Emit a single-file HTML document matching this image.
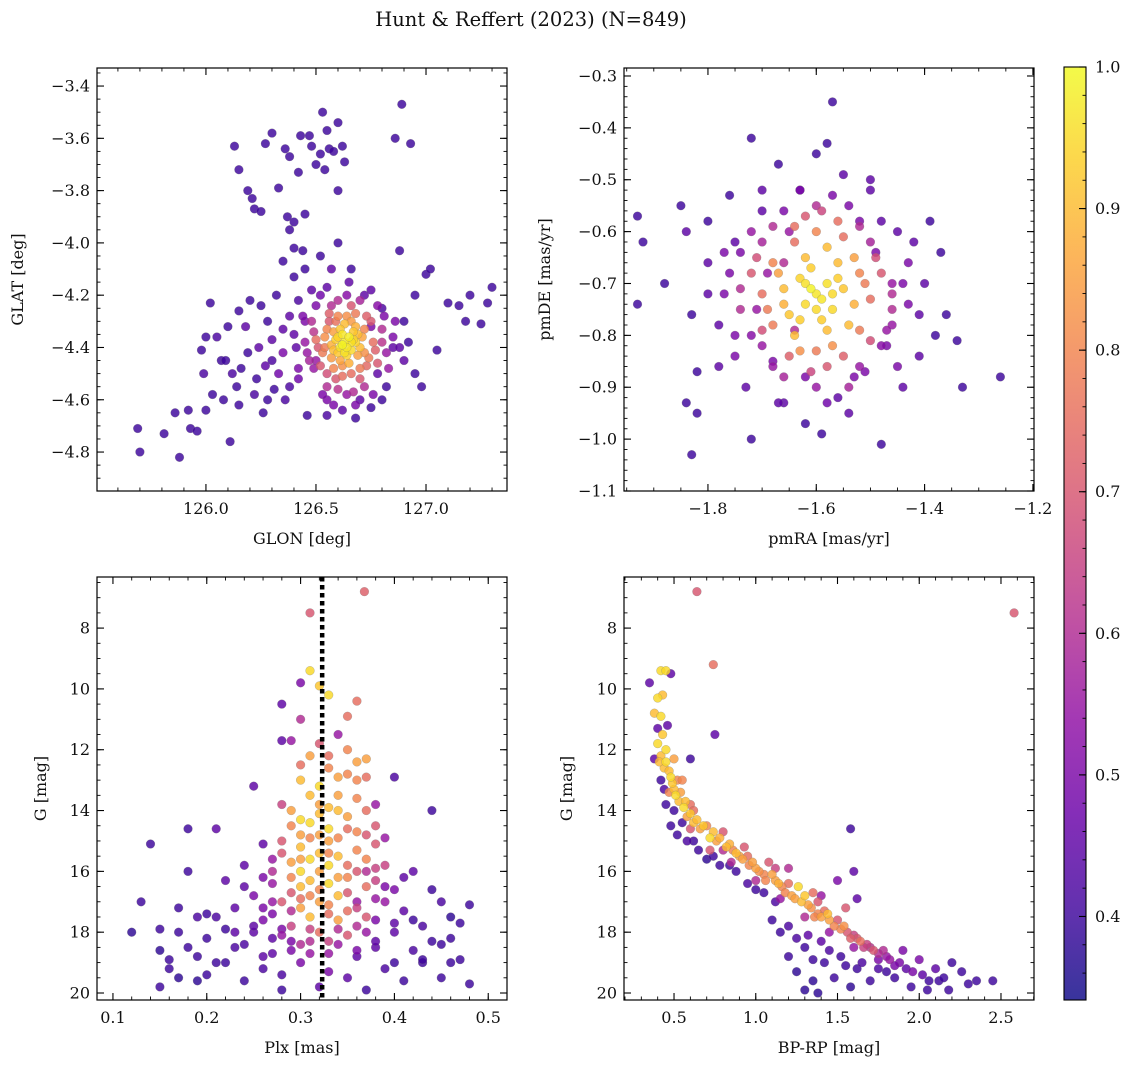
<!DOCTYPE html>
<html><head><meta charset="utf-8">
<style>
html,body{margin:0;padding:0;background:#fff;}
svg text{font-family:"DejaVu Serif","Liberation Serif",serif;fill:#111;}
</style></head>
<body>
<svg id="chart" width="1136" height="1067" viewBox="0 0 1136 1067" xmlns="http://www.w3.org/2000/svg">
<text x="531" y="26" font-size="19.5" text-anchor="middle">Hunt &amp; Reffert (2023) (N=849)</text>
</svg>
<script>
// ---------- data: [x, y, membership probability] ----------
const posData = [
[125.69,-4.71,.4],[125.70,-4.80,.4],[125.81,-4.73,.4],[125.86,-4.65,.4],[125.88,-4.82,.4],[125.92,-4.64,.4],[125.93,-4.71,.4],[125.96,-4.72,.4],[125.98,-4.41,.4],[125.99,-4.50,.42],[126.00,-4.64,.4],[126.00,-4.36,.4],[126.02,-4.23,.4],[126.03,-4.58,.4],[126.05,-4.36,.42],[126.07,-4.45,.4],[126.08,-4.60,.4],[126.09,-4.45,.4],[126.10,-4.32,.4],[126.11,-4.76,.4],[126.12,-4.50,.42],[126.14,-4.55,.4],[126.15,-4.62,.4],[126.15,-4.26,.4],[126.16,-4.48,.4],[126.18,-4.32,.45],[126.19,-4.42,.4],[126.20,-4.22,.4],[126.22,-4.58,.42],[126.23,-4.52,.4],[126.24,-4.40,.45],[126.25,-4.24,.4],[126.26,-4.65,.4],[126.27,-4.47,.45],[126.28,-4.30,.4],[126.30,-4.37,.45],[126.31,-4.56,.4],[126.32,-4.20,.4],[126.33,-4.50,.48],[126.35,-4.42,.5],[126.36,-4.60,.42],[126.38,-4.28,.45],[126.40,-4.13,.4],[126.42,-4.52,.48],[126.44,-4.03,.4],[126.45,-4.30,.5],[126.46,-4.66,.4],[126.48,-4.18,.45],[126.50,-4.45,.55],[126.52,-4.05,.4],[126.55,-4.60,.5],[126.57,-4.10,.45],[126.60,-4.00,.4],[126.62,-4.64,.45],[126.65,-4.15,.45],[126.68,-4.67,.4],[126.70,-4.60,.45],[126.72,-4.20,.45],[126.75,-4.32,.5],[126.78,-4.50,.45],[126.80,-4.25,.42],[126.82,-4.55,.4],[126.85,-4.40,.45],[126.88,-4.03,.4],[126.90,-4.30,.4],[126.95,-4.20,.4],[126.98,-4.55,.4],[127.00,-4.12,.4],[127.02,-4.10,.4],[127.05,-4.41,.4],[127.10,-4.23,.4],[127.15,-4.24,.4],[127.18,-4.30,.4],[127.20,-4.20,.4],[127.25,-4.31,.4],[127.28,-4.23,.4],[127.30,-4.17,.4],
[126.13,-3.63,.4],[126.15,-3.72,.4],[126.19,-3.80,.4],[126.21,-3.83,.4],[126.22,-3.87,.4],[126.25,-3.88,.4],[126.27,-3.62,.4],[126.30,-3.58,.4],[126.33,-3.79,.4],[126.36,-3.64,.4],[126.37,-3.90,.4],[126.38,-3.67,.4],[126.40,-3.92,.4],[126.42,-3.73,.4],[126.43,-3.59,.4],[126.45,-3.89,.4],[126.47,-3.59,.4],[126.48,-3.63,.4],[126.50,-3.70,.4],[126.52,-3.66,.4],[126.53,-3.50,.4],[126.54,-3.72,.4],[126.55,-3.57,.4],[126.56,-3.64,.4],[126.58,-3.65,.4],[126.60,-3.80,.4],[126.60,-3.54,.4],[126.62,-3.63,.4],[126.63,-3.69,.4],[126.86,-3.60,.4],[126.89,-3.47,.4],[126.93,-3.62,.4],[126.38,-3.95,.4],[126.35,-4.07,.4],[126.40,-4.02,.4],
[126.63,-4.38,.97],[126.65,-4.36,.98],[126.61,-4.40,.96],[126.66,-4.41,.95],[126.62,-4.35,.97],[126.68,-4.38,.94],[126.59,-4.37,.93],[126.64,-4.43,.94],[126.67,-4.34,.92],[126.60,-4.42,.92],[126.70,-4.40,.9],[126.57,-4.39,.88],[126.63,-4.31,.9],[126.65,-4.46,.88],
[126.55,-4.33,.8],[126.72,-4.33,.8],[126.53,-4.42,.78],[126.74,-4.44,.78],[126.58,-4.48,.8],[126.70,-4.48,.78],[126.60,-4.28,.8],[126.68,-4.27,.78],[126.50,-4.37,.75],[126.76,-4.38,.75],[126.62,-4.51,.75],[126.56,-4.27,.72],[126.73,-4.28,.72],[126.52,-4.47,.7],[126.78,-4.46,.7],[126.66,-4.24,.7],
[126.48,-4.30,.6],[126.80,-4.33,.6],[126.47,-4.45,.58],[126.82,-4.42,.55],[126.55,-4.55,.6],[126.72,-4.55,.6],[126.60,-4.22,.6],[126.45,-4.38,.55],[126.85,-4.36,.5],[126.64,-4.58,.55],[126.50,-4.24,.5],[126.78,-4.24,.52],[126.42,-4.48,.5],[126.68,-4.62,.5],[126.58,-4.62,.5],[126.90,-4.45,.45],[126.40,-4.35,.45],[126.52,-4.20,.48],[126.75,-4.18,.45],[126.58,-4.34,.85],[126.69,-4.43,.85],[126.61,-4.45,.86],[126.66,-4.30,.84],
[126.54,-4.36,.82],[126.71,-4.36,.86],[126.57,-4.44,.84],[126.68,-4.32,.88],[126.62,-4.47,.82],[126.64,-4.28,.82],[126.51,-4.40,.7],[126.77,-4.41,.72],[126.59,-4.30,.76],[126.73,-4.47,.74],[126.55,-4.50,.68],[126.70,-4.52,.7],[126.49,-4.34,.62],[126.80,-4.38,.62],[126.46,-4.42,.55],[126.83,-4.48,.55],[126.60,-4.56,.62],[126.67,-4.57,.6],[126.57,-4.24,.6],[126.70,-4.22,.58],[126.44,-4.28,.5],[126.86,-4.30,.5],[126.53,-4.58,.5],[126.76,-4.58,.5],[126.64,-4.20,.52],[126.62,-4.39,.99],[126.64,-4.40,.97],[126.66,-4.38,.96],[126.60,-4.36,.94],[126.63,-4.42,.96],[126.67,-4.37,.94],[126.58,-4.41,.9],[126.69,-4.35,.9],[126.61,-4.33,.92],[126.56,-4.30,.7],[126.75,-4.30,.7],[126.49,-4.48,.55],[126.81,-4.28,.5],[126.41,-4.40,.45],[126.88,-4.40,.45],[126.59,-4.52,.7],[126.66,-4.50,.75],[126.72,-4.42,.82],[126.54,-4.40,.78],
[126.30,-4.45,.42],[126.35,-4.33,.45],[126.42,-4.22,.42],[126.38,-4.55,.42],[126.28,-4.60,.4],[126.55,-4.66,.42],[126.75,-4.63,.4],[126.80,-4.60,.4],[126.92,-4.38,.4],[126.95,-4.50,.4],[126.55,-4.17,.45],[126.45,-4.10,.4],[126.66,-4.10,.4]
];
const pmData = [
[-1.93,-0.57,.4],[-1.92,-0.62,.4],[-1.93,-0.74,.4],[-1.88,-0.70,.4],[-1.85,-0.55,.4],[-1.84,-0.60,.45],[-1.83,-0.76,.4],[-1.82,-0.87,.4],[-1.83,-1.03,.4],[-1.82,-0.95,.4],[-1.84,-0.93,.4],[-1.80,-0.66,.45],[-1.80,-0.58,.4],[-1.78,-0.86,.45],[-1.77,-0.72,.5],[-1.76,-0.53,.4],[-1.75,-0.80,.5],[-1.74,-0.64,.5],[-1.73,-0.90,.45],[-1.72,-0.42,.4],[-1.72,-1.00,.4],[-1.71,-0.75,.55],[-1.70,-0.56,.45],[-1.69,-0.68,.55],[-1.68,-0.85,.5],[-1.67,-0.47,.4],[-1.66,-0.93,.45],[-1.65,-0.60,.55],[-1.64,-0.79,.6],[-1.63,-0.52,.45],[-1.62,-0.97,.4],[-1.60,-0.45,.4],[-1.59,-0.99,.4],[-1.58,-0.43,.4],[-1.57,-0.35,.4],[-1.56,-0.92,.45],[-1.55,-0.49,.45],[-1.54,-0.95,.45],[-1.52,-0.58,.5],[-1.51,-0.87,.5],[-1.50,-0.52,.45],[-1.49,-0.64,.5],[-1.48,-1.01,.4],[-1.47,-0.82,.5],[-1.46,-0.70,.55],[-1.45,-0.60,.45],[-1.44,-0.90,.45],[-1.43,-0.74,.5],[-1.42,-0.62,.45],[-1.41,-0.84,.45],[-1.40,-0.70,.45],[-1.38,-0.80,.4],[-1.37,-0.64,.4],[-1.36,-0.76,.4],[-1.34,-0.81,.4],[-1.33,-0.90,.4],[-1.26,-0.88,.4],[-1.39,-0.58,.4],[-1.75,-0.62,.45],[-1.78,-0.78,.45],[-1.70,-0.82,.55],[-1.66,-0.66,.6],[-1.53,-0.88,.5],[-1.46,-0.78,.55],[-1.62,-0.88,.5],[-1.48,-0.58,.45],
[-1.60,-0.72,.97],[-1.58,-0.70,.96],[-1.62,-0.74,.95],[-1.57,-0.75,.95],[-1.63,-0.69,.94],[-1.59,-0.77,.93],[-1.61,-0.67,.93],[-1.55,-0.71,.92],[-1.65,-0.76,.92],[-1.56,-0.66,.9],[-1.64,-0.80,.9],[-1.58,-0.63,.9],[-1.66,-0.71,.9],[-1.54,-0.78,.9],
[-1.68,-0.66,.8],[-1.52,-0.68,.8],[-1.68,-0.78,.78],[-1.52,-0.79,.78],[-1.60,-0.60,.8],[-1.60,-0.83,.78],[-1.70,-0.72,.75],[-1.50,-0.73,.75],[-1.64,-0.62,.75],[-1.55,-0.61,.75],[-1.65,-0.84,.72],[-1.55,-0.84,.72],[-1.72,-0.68,.7],[-1.48,-0.68,.7],[-1.62,-0.57,.7],[-1.58,-0.86,.7],
[-1.74,-0.75,.6],[-1.46,-0.75,.6],[-1.70,-0.62,.58],[-1.50,-0.62,.58],[-1.68,-0.86,.55],[-1.52,-0.86,.55],[-1.60,-0.55,.6],[-1.60,-0.90,.55],[-1.76,-0.68,.5],[-1.44,-0.70,.5],[-1.66,-0.56,.5],[-1.54,-0.55,.5],[-1.72,-0.80,.52],[-1.48,-0.82,.52],
[-1.61,-0.71,.99],[-1.59,-0.73,.97],[-1.62,-0.70,.96],[-1.57,-0.72,.95],[-1.60,-0.75,.95],[-1.63,-0.77,.93],[-1.56,-0.69,.93],[-1.58,-0.79,.9],[-1.62,-0.65,.9],[-1.66,-0.74,.88],[-1.53,-0.74,.88],[-1.67,-0.68,.85],[-1.53,-0.65,.85],[-1.57,-0.82,.82],[-1.63,-0.83,.82],[-1.69,-0.75,.78],[-1.51,-0.70,.78],[-1.64,-0.59,.75],[-1.56,-0.58,.75],[-1.71,-0.65,.68],[-1.49,-0.65,.68],[-1.70,-0.79,.68],[-1.50,-0.81,.68],[-1.61,-0.87,.66],[-1.59,-0.56,.66],[-1.74,-0.71,.6],[-1.46,-0.72,.6],[-1.68,-0.59,.6],[-1.52,-0.59,.6],[-1.66,-0.88,.58],[-1.54,-0.90,.58],[-1.77,-0.64,.5],[-1.43,-0.66,.5],[-1.75,-0.84,.5],[-1.45,-0.86,.5],[-1.63,-0.52,.5],[-1.57,-0.53,.5],[-1.58,-0.93,.48],[-1.67,-0.93,.45],[-1.80,-0.72,.45],[-1.41,-0.76,.45],[-1.70,-0.52,.45],[-1.50,-0.50,.45],[-1.72,-0.60,.55],[-1.47,-0.79,.55]
];
const plxData = [
[0.13,17.0,.4],[0.14,15.1,.4],[0.15,19.8,.4],[0.15,17.9,.4],[0.16,18.9,.4],[0.16,19.2,.4],[0.17,18.0,.4],[0.17,17.2,.4],[0.18,18.5,.4],[0.18,14.6,.4],[0.18,16.0,.4],[0.19,18.8,.4],[0.19,17.5,.42],[0.20,19.4,.4],[0.20,18.2,.4],[0.21,17.5,.42],[0.21,14.6,.45],[0.22,19.0,.4],[0.22,16.3,.45],[0.23,18.5,.42],[0.23,17.2,.45],[0.24,19.6,.4],[0.24,15.8,.45],[0.25,18.0,.45],[0.25,16.8,.5],[0.26,19.2,.42],[0.26,17.6,.5],[0.26,15.1,.45],[0.27,18.7,.45],[0.27,16.4,.55],[0.28,19.9,.4],[0.28,17.9,.5],[0.28,11.7,.45],[0.29,18.3,.5],[0.35,19.5,.45],[0.36,18.8,.45],[0.37,19.9,.4],[0.38,18.5,.45],[0.38,17.6,.5],[0.39,19.2,.42],[0.39,16.5,.5],[0.40,18.0,.45],[0.40,12.9,.42],[0.41,19.6,.4],[0.41,17.3,.45],[0.42,18.6,.42],[0.42,16.0,.45],[0.43,19.0,.4],[0.43,17.8,.42],[0.44,14.0,.4],[0.44,18.3,.4],[0.45,19.5,.4],[0.45,17.0,.42],[0.46,18.2,.4],[0.46,19.0,.4],[0.47,17.7,.4],[0.47,18.9,.4],[0.48,19.7,.4],[0.48,17.1,.4],[0.36,17.0,.55],[0.37,16.0,.6],[0.27,17.0,.55],[0.30,19.0,.5],[0.33,19.3,.5],[0.34,18.4,.55],[0.31,18.7,.55],[0.32,19.8,.45],[0.25,13.2,.45],[0.28,10.5,.45],[0.30,9.8,.5],[0.31,7.5,.7],[0.29,11.7,.55],
[0.368,6.8,.72],[0.31,9.4,.95],[0.33,10.2,.95],[0.32,9.9,.92],[0.35,10.9,.75],[0.36,10.4,.75],[0.31,12.2,.85],[0.33,12.6,.8],[0.35,12.0,.8],[0.36,12.4,.85],[0.37,12.3,.85],[0.30,13.0,.9],[0.32,13.2,.95],[0.34,13.5,.85],[0.36,13.0,.8],[0.29,14.0,.85],[0.30,14.3,.95],[0.32,14.1,.9],[0.33,14.6,.95],[0.35,14.2,.85],[0.37,14.0,.75],[0.38,14.5,.7],[0.28,15.0,.7],[0.30,15.2,.9],[0.31,15.6,.95],[0.33,15.0,.85],[0.34,15.5,.9],[0.36,15.3,.8],[0.38,15.1,.7],[0.39,15.8,.65],[0.27,16.0,.6],[0.29,16.2,.8],[0.30,16.5,.9],[0.32,16.0,.85],[0.33,16.4,.95],[0.35,16.2,.8],[0.37,16.5,.75],[0.38,16.3,.65],[0.28,17.0,.7],[0.30,17.2,.85],[0.31,17.5,.9],[0.33,17.1,.8],[0.34,17.6,.85],[0.35,17.3,.75],[0.37,17.5,.7],[0.29,17.8,.65],[0.32,18.0,.75],[0.35,18.1,.7],[0.30,18.4,.6],[0.33,18.3,.65],[0.36,17.8,.6],[0.31,14.9,.8],[0.34,14.0,.9],[0.29,15.7,.85],[0.36,14.7,.8],[0.31,16.8,.8],[0.34,16.8,.9],[0.27,17.4,.5],[0.39,17.0,.55],[0.26,16.2,.5],[0.40,16.6,.5],[0.32,11.8,.7],[0.34,11.5,.55],[0.30,11.0,.6],[0.38,13.8,.55],[0.28,13.8,.65],[0.37,15.6,.8],[0.30,16.0,.95],[0.33,15.8,.95],
[0.31,13.5,.9],[0.32,13.8,.85],[0.33,13.9,.9],[0.31,14.4,.95],[0.32,14.8,.85],[0.34,14.9,.8],[0.35,14.6,.75],[0.30,15.6,.85],[0.32,15.4,.9],[0.33,15.4,.8],[0.35,15.8,.75],[0.31,16.3,.9],[0.32,16.6,.8],[0.34,16.2,.85],[0.36,16.0,.7],[0.30,16.9,.75],[0.32,17.0,.85],[0.33,17.4,.75],[0.35,16.7,.7],[0.36,17.2,.65],[0.29,17.3,.6],[0.31,17.9,.65],[0.34,17.9,.6],[0.37,18.0,.55],[0.28,18.1,.55],[0.30,14.8,.85],[0.29,14.5,.8],[0.28,15.4,.7],[0.29,16.7,.7],[0.38,16.9,.55],[0.37,14.8,.7],[0.38,15.9,.65],[0.39,14.9,.55],[0.27,15.6,.55],[0.26,17.2,.5],[0.33,12.2,.75],[0.35,12.8,.8],[0.30,12.5,.75],[0.36,13.6,.8],[0.37,12.9,.75],[0.34,12.9,.85],[0.31,18.3,.6],[0.33,18.7,.55],[0.36,18.6,.5],[0.29,18.6,.5],[0.27,18.2,.45],[0.38,18.3,.45],[0.40,17.7,.45],[0.25,17.8,.45],[0.24,16.5,.45],[0.23,18.0,.45],[0.41,16.2,.45],
[0.20,17.4,.4],[0.22,17.9,.4],[0.24,18.4,.42],[0.21,19.0,.4],[0.19,19.6,.38],[0.26,18.8,.45],[0.28,19.4,.42],[0.40,19.0,.4],[0.42,17.6,.4],[0.44,16.6,.4],[0.43,18.9,.4],[0.45,18.4,.4],[0.17,19.5,.38],[0.15,18.6,.38],[0.12,18.0,.38],[0.46,17.5,.38]
];
const cmdData = [
[0.35,9.8,.45],[0.42,9.4,.95],[0.45,9.4,.95],[0.48,9.5,.45],[0.40,10.3,.95],[0.43,10.2,.9],[0.38,10.8,.9],[0.42,10.9,.95],[0.74,9.2,.75],[0.64,6.8,.7],[2.58,7.5,.7],[0.75,11.5,.45],
[0.40,11.8,.95],[0.42,12.2,.9],[0.45,12.0,.95],[0.44,12.6,.9],[0.48,12.9,.95],[0.50,13.3,.9],[0.52,13.0,.8],[0.53,13.7,.9],[0.56,13.9,.95],[0.58,14.2,.85],[0.60,13.8,.75],[0.62,14.4,.9],[0.66,14.6,.85],[0.70,14.5,.8],[0.72,14.9,.95],[0.76,15.0,.85],[0.80,14.7,.7],[0.82,15.2,.9],[0.86,15.3,.8],[0.90,15.5,.85],[0.93,15.2,.7],[0.96,15.8,.8],[1.00,15.9,.85],[1.05,16.1,.8],[1.08,15.7,.7],[1.12,16.3,.85],[1.16,16.5,.8],[1.20,16.4,.75],[1.22,16.8,.85],[1.26,16.5,.95],[1.28,17.0,.9],[1.32,17.1,.85],[1.35,16.7,.75],[1.38,17.4,.8],[1.42,17.3,.75],[1.45,17.6,.85],[1.50,17.6,.7],[1.52,17.9,.8],[1.56,18.0,.7],[1.60,18.1,.65],[1.64,18.3,.75],[1.68,18.4,.65],[1.72,18.6,.7],[1.78,18.6,.6],[1.82,18.9,.55],[1.88,19.0,.5],[1.92,19.2,.45],[1.96,19.3,.5],[2.02,19.4,.45],[2.06,19.6,.4],[2.12,19.6,.4],[2.18,19.9,.4],[2.26,19.3,.4],[2.35,19.6,.4],[2.45,19.6,.4],
[0.60,14.6,.7],[0.72,15.3,.7],[0.85,15.7,.6],[1.00,16.3,.6],[1.15,16.9,.55],[1.30,17.5,.6],[1.45,18.0,.55],[1.60,18.5,.55],[1.75,18.9,.5],[0.50,12.3,.85],[0.55,13.0,.8],[1.20,15.9,.6],[1.40,16.8,.55],[1.55,17.2,.7],
[0.42,13.0,.4],[0.45,13.8,.4],[0.48,14.5,.4],[0.52,14.8,.4],[0.58,15.0,.42],[0.65,15.3,.4],[0.70,15.6,.38],[0.78,15.8,.4],[0.88,16.0,.4],[0.95,16.4,.42],[1.05,16.7,.4],[0.40,11.3,.45],[0.46,11.2,.45],[0.60,12.3,.4],[1.58,14.6,.4],[1.60,16.0,.45],[1.62,16.9,.45],[1.50,16.3,.5],
[1.15,18.0,.4],[1.20,18.8,.4],[1.25,19.3,.38],[1.30,18.5,.4],[1.35,19.6,.38],[1.38,20.0,.38],[1.42,19.0,.4],[1.48,19.5,.4],[1.52,18.8,.4],[1.58,19.8,.38],[1.62,19.2,.4],[1.70,19.6,.4],[1.75,19.2,.42],[1.85,19.5,.4],[1.95,19.8,.4],[2.05,19.9,.4],[1.25,18.2,.42],[1.10,17.6,.4],[1.40,18.3,.45],[1.30,19.9,.38],[1.90,18.6,.5],[2.00,18.9,.5],[2.10,19.2,.45],[2.20,19.0,.4],
[0.45,12.4,.95],[0.47,12.7,.9],[0.49,13.1,.92],[0.51,13.5,.95],[0.54,13.4,.85],[0.57,13.7,.9],[0.60,14.1,.92],[0.64,14.3,.9],[0.68,14.5,.92],[0.74,14.7,.9],[0.78,14.9,.88],[0.84,15.1,.88],[0.88,15.4,.9],[0.92,15.6,.85],[0.98,15.7,.85],[1.02,16.0,.82],[1.06,16.3,.8],[1.10,16.1,.85],[1.14,16.4,.88],[1.18,16.7,.8],[1.24,16.9,.85],[1.30,16.8,.92],[1.34,17.2,.82],[1.36,17.5,.8],[1.40,17.5,.85],[1.44,17.4,.9],[1.48,17.8,.8],[1.54,17.8,.82],[1.58,18.2,.72],[1.62,18.2,.7],[1.66,18.5,.65],[1.70,18.5,.62],[1.75,18.7,.6],[1.80,18.8,.55],[1.85,19.1,.5],[0.43,11.5,.92],[0.41,12.4,.9],[0.47,13.4,.8],[0.62,14.0,.75],[0.80,15.3,.6],[0.95,15.5,.75],[1.12,15.9,.65],[1.38,17.0,.7],[0.38,12.3,.45],[0.44,13.3,.42],[0.50,14.0,.4],[0.55,14.4,.4],[0.62,15.0,.4],[0.74,15.5,.4],[0.84,15.8,.4],[1.00,16.6,.4],[1.12,17.0,.42],[1.20,17.8,.42],[1.32,18.1,.45],[1.45,18.6,.42],[1.55,19.1,.4],[1.35,18.9,.4],[1.65,19.0,.42],[1.80,19.3,.4],[2.15,19.5,.4],[2.30,19.7,.4]
];
const xTicks1 = [126.0,126.5,127.0];
const yTicks1 = [-3.4,-3.6,-3.8,-4.0,-4.2,-4.4,-4.6,-4.8];
const xTicks2 = [-1.8,-1.6,-1.4,-1.2];
const yTicks2 = [-0.3,-0.4,-0.5,-0.6,-0.7,-0.8,-0.9,-1.0,-1.1];
const xTicks3 = [0.1,0.2,0.3,0.4,0.5];
const xTicks4 = [0.5,1.0,1.5,2.0,2.5];
const gTicks = [8,10,12,14,16,18,20];
const cbTicks = [0.4,0.5,0.6,0.7,0.8,0.9,1.0];
const meanPlx = [0.323];
const cMin = 0.341, cMax = 1.0;

// ---------- rendering ----------
const NS = 'http://www.w3.org/2000/svg';
const svg = document.getElementById('chart');
function mk(tag, attrs, parent){ const e=document.createElementNS(NS,tag); for(const k in attrs) e.setAttribute(k,attrs[k]); (parent||svg).appendChild(e); return e; }
const stops=[[13,8,135],[65,4,157],[106,0,168],[143,13,164],[177,42,144],[204,71,120],[225,100,98],[242,132,75],[252,166,54],[252,206,37],[240,249,33]];
function plasma(t){ t=Math.max(0,Math.min(1,t)); const f=t*10, i=Math.min(9,Math.floor(f)), r=f-i; const a=stops[i], b=stops[i+1]; return 'rgb('+[0,1,2].map(k=>Math.round(a[k]+(b[k]-a[k])*r)).join(',')+')'; }
const fmt1 = v => (v<0?'\u2212':'')+Math.abs(v).toFixed(1);
const fmt0 = v => String(v);

function panel(o){
  const g = mk('g',{});
  
  
  const sx = v => o.box[0] + (v-o.xd[0])/(o.xd[1]-o.xd[0])*(o.box[2]-o.box[0]);
  const sy = v => o.box[1] + (v-o.yd[0])/(o.yd[1]-o.yd[0])*(o.box[3]-o.box[1]);
  const [L,T,R,B]=o.box;
  const pts = o.data.slice().sort((a,b)=>a[2]-b[2]);
  const pg = mk('g',{}, g);
  
  
  pts.forEach(d=>{
    const c = mk('circle',{cx:sx(d[0]).toFixed(1),cy:sy(d[1]).toFixed(1),r:4.4,fill:plasma((d[2]-cMin)/(cMax-cMin)),'fill-opacity':0.82,stroke:'#777','stroke-width':0.4,'stroke-opacity':0.6}, pg);
    
    
  });
  if(o.vline){ o.vline.forEach(v=>{ const l=mk('line',{x1:sx(v),x2:sx(v),y1:T,y2:B,stroke:'#000','stroke-width':4.5,'stroke-dasharray':'4.5,3.5'}, g);
    
     }); }
  const fr = mk('rect',{x:L,y:T,width:R-L,height:B-T,fill:'none',stroke:'#000','stroke-width':1.2}, g);
  
  
  const lo=(a,b)=>Math.min(a,b), hi=(a,b)=>Math.max(a,b);
  for(let v=Math.ceil(lo(...o.xd)/o.xm-1e-6)*o.xm; v<=hi(...o.xd)+1e-9; v+=o.xm){ const x=sx(v);
    mk('line',{x1:x,x2:x,y1:B,y2:B-3.5,stroke:'#000','stroke-width':0.9},g); mk('line',{x1:x,x2:x,y1:T,y2:T+3.5,stroke:'#000','stroke-width':0.9},g); }
  for(let v=Math.ceil(lo(...o.yd)/o.ym-1e-6)*o.ym; v<=hi(...o.yd)+1e-9; v+=o.ym){ const y=sy(v);
    mk('line',{x1:L,x2:L+3.5,y1:y,y2:y,stroke:'#000','stroke-width':0.9},g); mk('line',{x1:R,x2:R-3.5,y1:y,y2:y,stroke:'#000','stroke-width':0.9},g); }
  o.xt.forEach(v=>{ const x=sx(v);
    mk('line',{x1:x,x2:x,y1:B,y2:B-7,stroke:'#000','stroke-width':1.1},g); mk('line',{x1:x,x2:x,y1:T,y2:T+7,stroke:'#000','stroke-width':1.1},g);
    const t=mk('text',{x:x,y:B+23,'font-size':16,'text-anchor':'middle'},g); t.textContent=o.xf(v);
      });
  o.yt.forEach(v=>{ const y=sy(v);
    mk('line',{x1:L,x2:L+7,y1:y,y2:y,stroke:'#000','stroke-width':1.1},g); mk('line',{x1:R,x2:R-7,y1:y,y2:y,stroke:'#000','stroke-width':1.1},g);
    const t=mk('text',{x:L-7,y:y+5.5,'font-size':16,'text-anchor':'end'},g); t.textContent=o.yf(v);
      });
  const xl=mk('text',{x:(L+R)/2,y:B+53,'font-size':16,'text-anchor':'middle'},g); xl.textContent=o.xl;
   
  const yl=mk('text',{x:0,y:0,'font-size':16,'text-anchor':'middle',transform:'translate('+o.ylx+','+((T+B)/2)+') rotate(-90)'},g); yl.textContent=o.yl;
   
}

panel({name:'position-panel',data:posData,box:[97,68,507,491],xd:[125.505,127.368],yd:[-3.331,-4.949],xt:xTicks1,yt:yTicks1,xm:0.1,ym:0.05,xf:fmt1,yf:fmt1,xl:'GLON [deg]',yl:'GLAT [deg]',ylx:23});
panel({name:'proper-motion-panel',data:pmData,box:[624,68,1034,491],xd:[-1.955,-1.198],yd:[-0.2846,-1.1],xt:xTicks2,yt:yTicks2,xm:0.05,ym:0.02,xf:fmt1,yf:fmt1,xl:'pmRA [mas/yr]',yl:'pmDE [mas/yr]',ylx:550});
panel({name:'parallax-panel',data:plxData,box:[97,577,507,1000],xd:[0.083,0.520],yd:[6.32,20.23],xt:xTicks3,yt:gTicks,xm:0.02,ym:0.5,xf:fmt1,yf:fmt0,xl:'Plx [mas]',yl:'G [mag]',ylx:46,vline:meanPlx});
panel({name:'cmd-panel',data:cmdData,box:[624,577,1034,1000],xd:[0.194,2.702],yd:[6.32,20.23],xt:xTicks4,yt:gTicks,xm:0.1,ym:0.5,xf:fmt1,yf:fmt0,xl:'BP-RP [mag]',yl:'G [mag]',ylx:572});

(function(){
  const L=1064,R=1086,T=67,B=1000;
  const g=mk('g',{});
  
  
  const defs=mk('defs',{},g);
  const lg=mk('linearGradient',{id:'cbg',x1:0,y1:1,x2:0,y2:0},defs);
  for(let i=0;i<=20;i++){ mk('stop',{offset:(i/20),'stop-color':plasma(i/20),'stop-opacity':0.82},lg); }
  const r=mk('rect',{x:L,y:T,width:R-L,height:B-T,fill:'url(#cbg)',stroke:'#000','stroke-width':1.1},g);
   
  const sy=v=>B-(v-cMin)/(cMax-cMin)*(B-T);
  for(let v=0.36; v<=1.0001; v+=0.02){ const y=sy(v); mk('line',{x1:R,x2:R-3.5,y1:y,y2:y,stroke:'#000','stroke-width':0.9},g); }
  cbTicks.forEach(v=>{ const y=sy(v); mk('line',{x1:R,x2:R-7,y1:y,y2:y,stroke:'#000','stroke-width':1.1},g);
    const t=mk('text',{x:R+9,y:y+5.5,'font-size':16},g); t.textContent=v.toFixed(1);
      });
})();
</script>
</body></html>
